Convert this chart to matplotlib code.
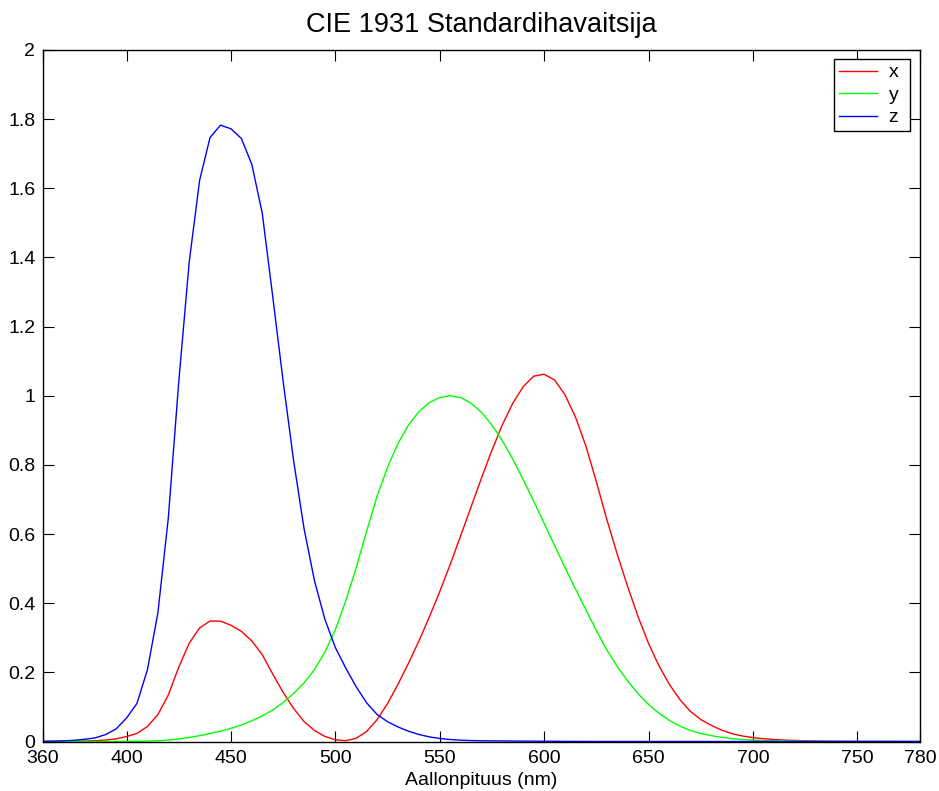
import matplotlib
matplotlib.use("Agg")
import matplotlib.pyplot as plt
import numpy as np

plt.rcParams['font.family'] = ['Liberation Sans', 'DejaVu Sans']

wavelength = list(range(360, 785, 5))
x_bar = [0.000130, 0.000232, 0.000415, 0.000742, 0.001368, 0.002236, 0.004243, 0.007650,
         0.014310, 0.023190, 0.043510, 0.077630, 0.134380, 0.214770, 0.283900, 0.328500,
         0.348280, 0.348060, 0.336200, 0.318700, 0.290800, 0.251100, 0.195360, 0.142100,
         0.095640, 0.057950, 0.032010, 0.014700, 0.004900, 0.002400, 0.009300, 0.029100,
         0.063270, 0.109600, 0.165500, 0.225750, 0.290400, 0.359700, 0.433450, 0.512050,
         0.594500, 0.678400, 0.762100, 0.842500, 0.916300, 0.978600, 1.026300, 1.056700,
         1.062200, 1.045600, 1.002600, 0.938400, 0.854450, 0.751400, 0.642400, 0.541900,
         0.447900, 0.360800, 0.283500, 0.218700, 0.164900, 0.121200, 0.087400, 0.063600,
         0.046770, 0.032900, 0.022700, 0.015840, 0.011359, 0.008111, 0.005790, 0.004109,
         0.002899, 0.002049, 0.001440, 0.001000, 0.000690, 0.000476, 0.000332, 0.000235,
         0.000166, 0.000117, 0.000083, 0.000059, 0.000042]
y_bar = [0.000004, 0.000007, 0.000012, 0.000022, 0.000039, 0.000064, 0.000120, 0.000217,
         0.000396, 0.000640, 0.001210, 0.002180, 0.004000, 0.007300, 0.011600, 0.016840,
         0.023000, 0.029800, 0.038000, 0.048000, 0.060000, 0.073900, 0.090980, 0.112600,
         0.139020, 0.169300, 0.208020, 0.258600, 0.323000, 0.407300, 0.503000, 0.608200,
         0.710000, 0.793200, 0.862000, 0.914850, 0.954000, 0.980300, 0.994950, 1.000000,
         0.995000, 0.978600, 0.952000, 0.915400, 0.870000, 0.816300, 0.757000, 0.694900,
         0.631000, 0.566800, 0.503000, 0.441200, 0.381000, 0.321000, 0.265000, 0.217000,
         0.175000, 0.138200, 0.107000, 0.081600, 0.061000, 0.044580, 0.032000, 0.023200,
         0.017000, 0.011920, 0.008210, 0.005723, 0.004102, 0.002929, 0.002091, 0.001484,
         0.001047, 0.000740, 0.000520, 0.000361, 0.000249, 0.000172, 0.000120, 0.000085,
         0.000060, 0.000042, 0.000030, 0.000021, 0.000015]
z_bar = [0.000606, 0.001086, 0.001946, 0.003486, 0.006450, 0.010550, 0.020050, 0.036210,
         0.067850, 0.110200, 0.207400, 0.371300, 0.645600, 1.039050, 1.385600, 1.622960,
         1.747060, 1.782600, 1.772110, 1.744100, 1.669200, 1.528100, 1.287640, 1.041900,
         0.812950, 0.616200, 0.465180, 0.353300, 0.272000, 0.212300, 0.158200, 0.111700,
         0.078250, 0.057250, 0.042160, 0.029840, 0.020300, 0.013400, 0.008750, 0.005750,
         0.003900, 0.002750, 0.002100, 0.001800, 0.001650, 0.001400, 0.001100, 0.001000,
         0.000800, 0.000600, 0.000340, 0.000240, 0.000190, 0.000100, 0.000050, 0.000030,
         0.000020, 0.000010, 0.0, 0.0, 0.0, 0.0, 0.0, 0.0, 0.0, 0.0, 0.0, 0.0, 0.0, 0.0,
         0.0, 0.0, 0.0, 0.0, 0.0, 0.0, 0.0, 0.0, 0.0, 0.0, 0.0, 0.0, 0.0, 0.0, 0.0]

series_labels = ['x', 'y', 'z']
x_ticks = [360, 400, 450, 500, 550, 600, 650, 700, 750, 780]
y_ticks = [0, 0.2, 0.4, 0.6, 0.8, 1, 1.2, 1.4, 1.6, 1.8, 2]
y_ticklabels = ['0', '0.2', '0.4', '0.6', '0.8', '1', '1.2', '1.4', '1.6', '1.8', '2']

fig = plt.figure(figsize=(9.39, 7.91), dpi=100)
ax = fig.add_axes([43/939, 1 - 741.5/791, (920-43)/939, (741.5-50)/791])

ax.plot(wavelength, x_bar, color='#ff0000', lw=1.0, label=series_labels[0])
ax.plot(wavelength, y_bar, color='#00ff00', lw=1.0, label=series_labels[1])
ax.plot(wavelength, z_bar, color='#0000ff', lw=1.0, label=series_labels[2])

ax.set_xlim(360, 780)
ax.set_ylim(0, 2)
ax.set_xticks(x_ticks)
ax.set_xticklabels([str(t) for t in x_ticks])
ax.set_yticks(y_ticks)
ax.set_yticklabels(y_ticklabels)
ax.tick_params(direction='in', length=8, width=0.8, labelsize=14, top=True, right=True)
ax.tick_params(axis='x', pad=6)
ax.tick_params(axis='y', pad=5.5)
for s in ax.spines.values():
    s.set_linewidth(1.0)

ax.set_xlabel('Aallonpituus (nm)', fontsize=14, labelpad=4)
ax.set_title('CIE 1931 Standardihavaitsija', fontsize=19.5, pad=13)

leg = ax.legend(loc='upper right', bbox_to_anchor=(0.902, 0.887, 0.0867, 0.1), mode='expand',
                fontsize=14, frameon=True, fancybox=False, edgecolor='black', framealpha=1,
                handlelength=1.95, handletextpad=0.6, borderpad=0.25, labelspacing=0.25,
                borderaxespad=0)
leg.get_frame().set_linewidth(1.0)

fig.savefig('out.png', dpi=100)
